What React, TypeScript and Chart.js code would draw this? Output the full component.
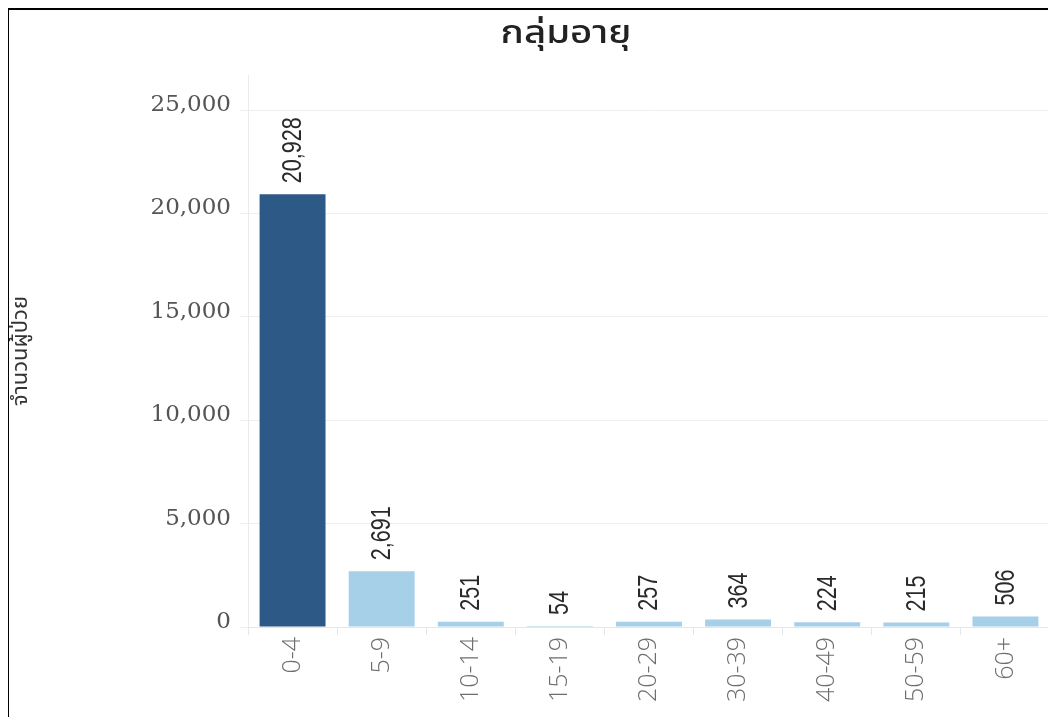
import React, { useEffect, useRef } from "react";
import { Chart, registerables } from "chart.js";

Chart.register(...registerables);

const chartTitle = "กลุ่มอายุ";
const yAxisTitle = "จำนวนผู้ป่วย";
const categories = ["0-4", "5-9", "10-14", "15-19", "20-29", "30-39", "40-49", "50-59", "60+"];
const patients = [20928, 2691, 251, 54, 257, 364, 224, 215, 506];
const barColors = ["#2c5985", "#a6cfe8", "#a6cfe8", "#a6cfe8", "#a6cfe8", "#a6cfe8", "#a6cfe8", "#a6cfe8", "#a6cfe8"];
const yTickValues = [0, 5000, 10000, 15000, 20000, 25000];
const yMax = 26700;

const THAI_FONT = '"Noto Sans Thai", "Noto Sans Thai UI", "Loma", "Garuda", "Tahoma", "Noto Sans", sans-serif';

const titlePlugin = {
  id: "customTitle",
  afterDraw(chart: any) {
    const ctx = chart.ctx;
    ctx.save();
    ctx.font = `500 32px ${THAI_FONT}`;
    ctx.fillStyle = "#222";
    ctx.textAlign = "center";
    ctx.textBaseline = "middle";
    ctx.translate(557, 27);
    ctx.scale(1.2, 1);
    ctx.fillText(chartTitle, 0, 0);
    ctx.restore();
  },
};

const valueLabelPlugin = {
  id: "valueLabels",
  afterDatasetsDraw(chart: any) {
    const ctx = chart.ctx;
    const meta = chart.getDatasetMeta(0);
    const data = chart.data.datasets[0].data as number[];
    ctx.save();
    ctx.font = '27px "Liberation Sans Narrow", "Arial Narrow", "Liberation Sans", sans-serif';
    ctx.fillStyle = "#2a2a2a";
    ctx.textAlign = "left";
    ctx.textBaseline = "middle";
    meta.data.forEach((bar: any, i: number) => {
      ctx.save();
      ctx.translate(bar.x, bar.y - 11);
      ctx.rotate(-Math.PI / 2);
      ctx.scale(0.8, 1);
      ctx.fillText(data[i].toLocaleString("en-US"), 0, 1);
      ctx.restore();
    });
    ctx.restore();
  },
};

export default function App() {
  const canvasRef = useRef<HTMLCanvasElement | null>(null);

  useEffect(() => {
    if (!canvasRef.current) return;
    const chart = new Chart(canvasRef.current, {
      type: "bar",
      data: {
        labels: categories,
        datasets: [
          {
            data: patients,
            backgroundColor: barColors,
            borderWidth: 0,
            barPercentage: 0.74,
            categoryPercentage: 1,
          },
        ],
      },
      options: {
        responsive: false,
        animation: false,
        devicePixelRatio: 1,
        layout: { padding: { top: 65, right: 6, left: 0, bottom: 0 } },
        plugins: {
          legend: { display: false },
          title: { display: false },
          tooltip: { enabled: false },
        },
        scales: {
          x: {
            afterFit: (scale: any) => {
              scale.height = 90;
            },
            grid: {
              display: true,
              drawOnChartArea: false,
              drawTicks: true,
              tickLength: 8,
              color: "#e6e6e6",
              offset: true,
            },
            border: { display: true, color: "#e6e6e6" },
            ticks: {
              autoSkip: false,
              minRotation: 90,
              maxRotation: 90,
              padding: 2,
              color: "#6e6e6e",
              font: { family: '"Open Sans", "Noto Sans", sans-serif', size: 25, weight: 300 },
            },
          },
          y: {
            min: 0,
            max: yMax,
            afterFit: (scale: any) => {
              scale.width = 239;
            },
            afterBuildTicks: (scale: any) => {
              scale.ticks = yTickValues.map((v) => ({ value: v }));
            },
            grid: {
              color: "#eeeeee",
              tickLength: 8,
              drawTicks: true,
            },
            border: { display: true, color: "#ebebeb" },
            ticks: {
              padding: 9,
              labelOffset: -5,
              color: "#555",
              font: { family: '"DejaVu Serif", serif', size: 23 },
              callback: (v: any) => Number(v).toLocaleString("en-US"),
            },
            title: {
              display: true,
              text: yAxisTitle,
              color: "#333",
              padding: { top: 0, bottom: 0 },
              font: { family: THAI_FONT, size: 22 },
            },
          },
        },
      },
      plugins: [titlePlugin, valueLabelPlugin],
    });
    return () => chart.destroy();
  }, []);

  return (
    <div
      style={{
        position: "relative",
        width: 1050,
        height: 710,
        margin: "-1px 0 0 -2px",
        borderTop: "3px solid #000",
        borderLeft: "3px solid #000",
        boxSizing: "border-box",
        background: "#fff",
      }}
    >
      <canvas ref={canvasRef} width={1047} height={707} style={{ display: "block" }} />
    </div>
  );
}
